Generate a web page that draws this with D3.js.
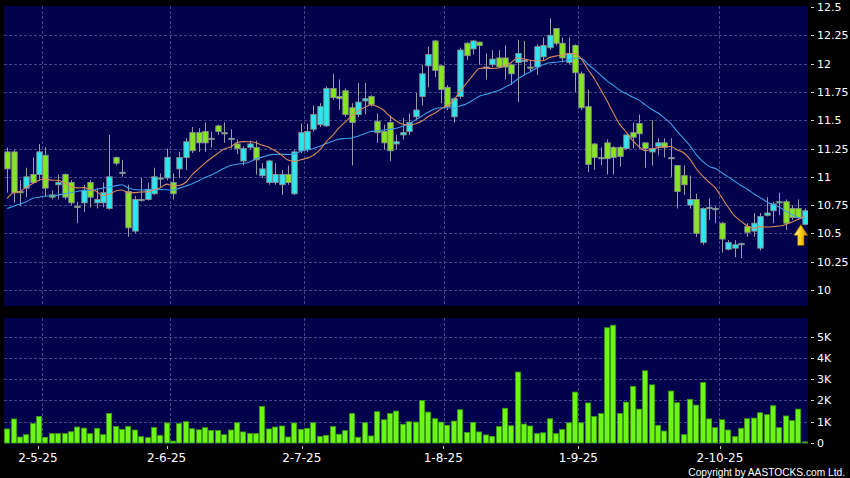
<!DOCTYPE html>
<html><head><meta charset="utf-8">
<script src="https://cdn.jsdelivr.net/npm/d3@7"></script>
<style>html,body{margin:0;padding:0;background:#000;}svg{display:block}</style>
</head><body>
<svg id="chart" width="850" height="478"></svg>
<script>
// ---------- DATA ----------
const dates = [
 "24-4-25","25-4-25","28-4-25","29-4-25","30-4-25",
 "2-5-25","6-5-25","7-5-25","8-5-25","9-5-25","12-5-25","13-5-25","14-5-25","15-5-25","16-5-25",
 "19-5-25","20-5-25","21-5-25","22-5-25","23-5-25","26-5-25","27-5-25","28-5-25","29-5-25","30-5-25",
 "2-6-25","3-6-25","4-6-25","5-6-25","6-6-25","9-6-25","10-6-25","11-6-25","12-6-25","13-6-25",
 "16-6-25","17-6-25","18-6-25","19-6-25","20-6-25","23-6-25","24-6-25","25-6-25","26-6-25","27-6-25","30-6-25",
 "2-7-25","3-7-25","4-7-25","7-7-25","8-7-25","9-7-25","10-7-25","11-7-25","14-7-25","15-7-25","16-7-25",
 "17-7-25","18-7-25","21-7-25","22-7-25","23-7-25","24-7-25","25-7-25","28-7-25","29-7-25","30-7-25","31-7-25",
 "1-8-25","4-8-25","5-8-25","6-8-25","7-8-25","8-8-25","11-8-25","12-8-25","13-8-25","14-8-25","15-8-25",
 "18-8-25","19-8-25","20-8-25","21-8-25","22-8-25","25-8-25","26-8-25","27-8-25","28-8-25","29-8-25",
 "1-9-25","2-9-25","3-9-25","4-9-25","5-9-25","8-9-25","9-9-25","10-9-25","11-9-25","12-9-25",
 "15-9-25","16-9-25","17-9-25","18-9-25","19-9-25","22-9-25","23-9-25","24-9-25","25-9-25","26-9-25","29-9-25","30-9-25",
 "2-10-25","3-10-25","6-10-25","8-10-25","9-10-25","10-10-25","13-10-25","14-10-25","15-10-25","16-10-25","17-10-25",
 "20-10-25","21-10-25","22-10-25","23-10-25"
];
const open = [11.22,11.22,10.87,10.90,11.02,11.02,11.19,10.84,10.93,11.02,10.95,10.74,10.77,10.95,10.77,10.77,10.72,11.17,11.03,10.87,
 10.52,10.80,10.80,10.85,10.99,10.99,10.95,11.07,11.17,11.39,11.39,11.40,11.34,11.45,11.39,11.33,11.29,11.14,11.26,11.26,
 11.01,10.95,10.95,10.93,11.02,10.85,11.23,11.24,11.42,11.46,11.45,11.78,11.71,11.76,11.61,11.55,11.67,11.71,11.49,11.40,
 11.48,11.29,11.37,11.40,11.53,11.71,11.98,12.20,11.98,11.79,11.53,11.71,12.18,12.13,12.19,11.97,11.99,12.05,12.05,11.99,
 12.01,12.03,11.97,11.97,12.06,12.14,12.31,12.18,12.01,12.16,11.91,11.62,11.29,11.17,11.30,11.26,11.26,11.25,11.39,11.47,
 11.30,11.22,11.27,11.30,11.17,11.10,11.01,10.75,10.80,10.42,10.72,10.71,10.59,10.36,10.37,10.41,10.56,10.52,10.37,10.66,
 10.70,10.77,10.78,10.72,10.72,10.58];
const high = [11.26,11.24,10.97,11.08,11.17,11.29,11.26,10.88,11.02,11.03,10.97,10.78,10.93,10.97,10.90,10.95,11.37,11.18,11.15,10.93,
 10.83,10.99,10.95,11.08,11.03,11.25,11.03,11.22,11.34,11.44,11.43,11.48,11.40,11.46,11.48,11.42,11.33,11.27,11.32,11.32,
 11.12,11.15,11.12,11.06,11.10,11.24,11.47,11.47,11.63,11.65,11.80,11.91,11.86,11.78,11.65,11.83,11.83,11.72,11.56,11.46,
 11.54,11.37,11.52,11.56,11.74,11.99,12.15,12.21,11.99,11.81,11.70,12.14,12.19,12.21,12.19,12.09,12.12,12.12,12.16,12.00,
 12.21,12.20,12.03,12.17,12.23,12.40,12.31,12.23,12.23,12.17,11.93,11.77,11.30,11.26,11.33,11.27,11.27,11.37,11.48,11.55,
 11.30,11.50,11.34,11.34,11.34,11.10,11.10,11.01,10.85,10.73,10.81,10.74,10.60,10.44,10.44,10.42,10.59,10.68,10.68,10.82,
 10.78,10.86,10.80,10.75,10.80,10.72];
const low = [10.86,10.77,10.74,10.82,10.94,10.97,10.82,10.80,10.80,10.80,10.75,10.59,10.69,10.73,10.72,10.73,10.71,11.10,11.00,10.47,
 10.50,10.78,10.79,10.84,10.91,10.97,10.80,10.99,11.06,11.21,11.22,11.22,11.26,11.37,11.30,11.25,11.20,11.10,11.24,11.02,
 10.99,10.93,10.93,10.84,10.93,10.84,11.21,11.22,11.40,11.44,11.44,11.68,11.59,11.53,11.10,11.53,11.55,11.62,11.30,11.24,
 11.14,11.24,11.33,11.37,11.50,11.63,11.79,11.88,11.65,11.59,11.48,11.69,12.03,12.08,11.99,11.86,11.97,11.96,11.86,11.81,
 11.66,11.90,11.93,11.90,12.03,12.12,12.16,12.01,11.99,11.75,11.59,11.04,11.06,11.10,11.02,11.02,11.09,11.24,11.25,11.25,
 11.08,11.10,11.19,11.17,11.00,10.72,10.84,10.72,10.47,10.40,10.62,10.59,10.33,10.35,10.29,10.28,10.47,10.47,10.35,10.65,
 10.59,10.66,10.53,10.62,10.62,10.57];
const close = [11.07,10.86,10.86,11.00,10.95,11.22,10.90,10.82,10.95,10.82,10.77,10.73,10.88,10.82,10.80,10.86,11.00,11.12,11.04,10.55,
 10.80,10.79,10.89,11.00,10.99,11.17,10.85,11.17,11.31,11.23,11.30,11.30,11.34,11.40,11.39,11.34,11.25,11.25,11.29,11.15,
 11.07,11.14,11.02,11.02,10.95,11.22,11.39,11.40,11.55,11.62,11.78,11.70,11.69,11.55,11.48,11.66,11.69,11.64,11.39,11.30,
 11.23,11.31,11.39,11.48,11.59,11.91,12.08,11.94,11.77,11.62,11.69,12.12,12.07,12.20,12.16,11.97,12.04,11.97,11.97,11.91,
 12.09,12.03,11.96,12.15,12.16,12.25,12.18,12.05,12.09,11.92,11.61,11.11,11.17,11.17,11.16,11.17,11.18,11.37,11.35,11.38,
 11.25,11.25,11.30,11.26,11.17,10.87,10.93,10.80,10.50,10.72,10.73,10.72,10.45,10.42,10.40,10.41,10.51,10.59,10.65,10.68,
 10.76,10.78,10.59,10.64,10.64,10.70];
const volumeK = [0.66,1.13,0.28,0.39,0.91,1.25,0.27,0.44,0.44,0.44,0.53,0.75,0.70,0.44,0.69,0.39,1.39,0.77,0.64,0.77,
 0.61,0.30,0.25,0.73,0.36,0.94,0.09,0.91,1.00,0.67,0.62,0.72,0.59,0.59,0.39,0.61,0.95,0.52,0.44,0.44,
 1.72,0.66,0.75,0.80,0.28,0.94,0.64,0.69,0.95,0.31,0.36,0.77,0.41,0.58,1.38,0.27,0.95,0.33,1.47,1.09,
 1.39,1.50,0.88,1.00,0.98,2.00,1.45,1.14,0.98,0.83,1.03,1.56,0.50,0.97,0.52,0.38,0.31,0.77,1.63,0.81,
 3.33,0.89,0.80,0.44,0.48,1.14,0.44,0.64,0.95,2.39,0.95,1.88,1.25,1.38,5.41,5.53,1.39,1.92,2.66,1.59,
 3.39,2.73,0.83,0.56,2.44,1.89,0.39,2.05,1.78,2.84,1.13,0.72,1.09,0.61,0.30,0.69,1.14,1.17,1.42,1.33,
 1.75,0.72,1.27,1.05,1.59,0.05];
// moving-average values for the first days (window starts before the visible data)
const ma10Lead = [10.81,10.86,10.87,10.91,10.94,10.97,10.98,10.97,10.97];
const ma20Lead = [10.72,10.74,10.76,10.78,10.81,10.82,10.83,10.83,10.84,10.85,10.86,10.87,10.88,10.88,10.89,10.90,10.91,10.92,10.93];
const priceTicks = [10,10.25,10.5,10.75,11,11.25,11.5,11.75,12,12.25,12.5];
const priceTickLabels = ["10","10.25","10.5","10.75","11","11.25","11.5","11.75","12","12.25","12.5"];
const volTicks = [0,1,2,3,4,5];
const volTickLabels = ["0","1K","2K","3K","4K","5K"];
const monthLabels = ["2-5-25","2-6-25","2-7-25","1-8-25","1-9-25","2-10-25"];

// ---------- DERIVED ----------
function sma(n, lead){
  return close.map((c,i)=>{
    if(i < lead.length) return lead[i];
    return d3.mean(close.slice(i-n+1,i+1));
  });
}
const ma10 = sma(10, ma10Lead);
const ma20 = sma(20, ma20Lead);
const data = dates.map((d,i)=>({d, i, o:open[i], h:high[i], l:low[i], c:close[i], v:volumeK[i], m10:ma10[i], m20:ma20[i]}));

// ---------- LAYOUT ----------
const L = 4, R = 808;
const pTop = 6, pBot = 306, vTop = 318, vBot = 444;
const svg = d3.select("#chart");
const FONT = "DejaVu Sans, Verdana, sans-serif";

const x = d3.scaleBand().domain(dates).range([L, R]).padding(0);
const bw = x.bandwidth();
const cx = d => x(d) + bw/2;
const y = d3.scaleLinear().domain([10, 12.5]).range([290, 7]);
const yv = d3.scaleLinear().domain([0, 5]).range([443, 336.5]);
const xl = d3.scaleLinear().domain([0, dates.length-1]).range([5.8, 810]);

svg.append("rect").attr("width",850).attr("height",478).attr("fill","#000");
svg.append("rect").attr("x",L).attr("y",pTop).attr("width",R-L).attr("height",pBot-pTop).attr("fill","#02024c");
svg.append("rect").attr("x",L).attr("y",vTop).attr("width",R-L).attr("height",vBot-vTop).attr("fill","#02024c");

const defs = svg.append("defs");
defs.append("clipPath").attr("id","cp").append("rect").attr("x",L).attr("y",pTop).attr("width",R-L).attr("height",pBot-pTop);
defs.append("clipPath").attr("id","cv").append("rect").attr("x",L).attr("y",vTop).attr("width",R-L).attr("height",vBot-vTop);
const grad = defs.append("linearGradient").attr("id","arrowG").attr("x1","0").attr("x2","1").attr("y1","0").attr("y2","0");
grad.append("stop").attr("offset","0%").attr("stop-color","#fff4a0");
grad.append("stop").attr("offset","45%").attr("stop-color","#ffd21a");
grad.append("stop").attr("offset","100%").attr("stop-color","#d08a00");

const gridColor = "#44448a";
const monthIdx = monthLabels.map(m => dates.indexOf(m));

// horizontal grids
const gp = svg.append("g").attr("clip-path","url(#cp)");
gp.selectAll("line.h").data(priceTicks.filter(t=>t<12.5)).join("line")
  .attr("x1",L).attr("x2",R).attr("y1",d=>Math.round(y(d))+0.5).attr("y2",d=>Math.round(y(d))+0.5)
  .attr("stroke",gridColor).attr("stroke-dasharray","3,2");
gp.selectAll("line.v").data(monthIdx).join("line")
  .attr("x1",i=>Math.round(x(dates[i])+bw)+0.5).attr("x2",i=>Math.round(x(dates[i])+bw)+0.5)
  .attr("y1",pTop).attr("y2",pBot).attr("stroke",gridColor).attr("stroke-dasharray","3,2");
const gv = svg.append("g").attr("clip-path","url(#cv)");
gv.selectAll("line.h").data(volTicks.filter(t=>t>0)).join("line")
  .attr("x1",L).attr("x2",R).attr("y1",d=>Math.round(yv(d))+0.5).attr("y2",d=>Math.round(yv(d))+0.5)
  .attr("stroke",gridColor).attr("stroke-dasharray","3,2");
gv.selectAll("line.v").data(monthIdx).join("line")
  .attr("x1",i=>Math.round(x(dates[i])+bw)+0.5).attr("x2",i=>Math.round(x(dates[i])+bw)+0.5)
  .attr("y1",vTop).attr("y2",vBot).attr("stroke",gridColor).attr("stroke-dasharray","3,2");

// candles
const cg = svg.append("g").attr("clip-path","url(#cp)");
cg.selectAll("line.w").data(data).join("line")
  .attr("x1",d=>Math.round(cx(d.d))+0.5).attr("x2",d=>Math.round(cx(d.d))+0.5)
  .attr("y1",d=>y(d.h)).attr("y2",d=>y(d.l)).attr("stroke","#9a9aa6").attr("stroke-width",1);
cg.selectAll("rect.b").data(data).join("rect")
  .attr("x",d=>Math.round(cx(d.d))-2.2)
  .attr("width",5.4)
  .attr("y",d=>y(Math.max(d.o,d.c)))
  .attr("height",d=>Math.max(1.2, Math.abs(y(d.o)-y(d.c))))
  .attr("fill",d=> d.c>d.o ? "#2ae8f2" : (d.c<d.o ? "#86e61e" : "#7fc8d0"))
  .attr("stroke","#8a9090").attr("stroke-width",0.9);

// moving averages
const lineGen = key => d3.line().x(d=>cx(d.d)).y(d=>y(d[key])).curve(d3.curveMonotoneX);
cg.append("path").datum(data).attr("d",lineGen("m20")).attr("fill","none").attr("stroke","#3c9ee6").attr("stroke-width",1.1);
cg.append("path").datum(data).attr("d",lineGen("m10")).attr("fill","none").attr("stroke","#d98a5a").attr("stroke-width",1.1);

// arrow below last candle
const last = data[data.length-1];
const ax = cx(last.d)-4, ay = y(last.l)-1;
svg.append("path")
  .attr("d",`M${ax},${ay} L${ax+7},${ay+11} L${ax+3.2},${ay+11} L${ax+3.2},${ay+21} L${ax-3.2},${ay+21} L${ax-3.2},${ay+11} L${ax-7},${ay+11} Z`)
  .attr("fill","url(#arrowG)").attr("stroke","#7a5200").attr("stroke-width",0.7);

// volume bars
gv.selectAll("rect.v").data(data).join("rect")
  .attr("x",d=>Math.round(cx(d.d))-2.5)
  .attr("width",5.2)
  .attr("y",d=>yv(d.v))
  .attr("height",d=>Math.max(0.8, yv(0)-yv(d.v)))
  .attr("fill","#6cf516").attr("stroke","#3a9a10").attr("stroke-width",0.8);

// right axes
const axP = svg.append("g");
axP.selectAll("line").data(priceTicks).join("line")
  .attr("x1",811).attr("x2",814).attr("y1",d=>Math.round(y(d))+0.5).attr("y2",d=>Math.round(y(d))+0.5).attr("stroke","#cccccc");
axP.selectAll("text").data(priceTicks).join("text")
  .attr("x",817).attr("y",d=>y(d)+4).attr("fill","#ffffff")
  .attr("font-family",FONT).attr("font-size",11).text((d,i)=>priceTickLabels[i]);
const axV = svg.append("g");
axV.selectAll("line").data(volTicks).join("line")
  .attr("x1",811).attr("x2",814).attr("y1",d=>Math.round(yv(d))+0.5).attr("y2",d=>Math.round(yv(d))+0.5).attr("stroke","#cccccc");
axV.selectAll("text").data(volTicks).join("text")
  .attr("x",817).attr("y",d=>yv(d)+4).attr("fill","#ffffff")
  .attr("font-family",FONT).attr("font-size",11).text((d,i)=>volTickLabels[i]);

// bottom axis
const axX = svg.append("g");
axX.selectAll("line").data(monthIdx).join("line")
  .attr("x1",i=>Math.round(xl(i))+0.5).attr("x2",i=>Math.round(xl(i))+0.5)
  .attr("y1",446).attr("y2",449).attr("stroke","#cccccc");
axX.selectAll("text").data(monthIdx).join("text")
  .attr("x",i=>xl(i)).attr("y",462).attr("text-anchor","middle").attr("fill","#ffffff")
  .attr("font-family",FONT).attr("font-size",12).text((i,k)=>monthLabels[k]);

svg.append("text").attr("x",845).attr("y",475.5).attr("text-anchor","end").attr("fill","#ffffff")
  .attr("font-family","Liberation Sans, Arial, sans-serif").attr("font-size",10.2)
  .text("Copyright by AASTOCKS.com Ltd.");
</script>
</body></html>
